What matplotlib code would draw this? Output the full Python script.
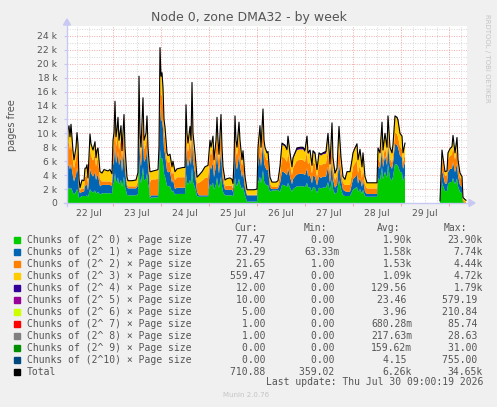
import datetime as dt
import numpy as np
import matplotlib
matplotlib.use("Agg")
import matplotlib.pyplot as plt
import matplotlib.dates as mdates
from matplotlib.lines import Line2D
from matplotlib.patches import Rectangle, Polygon

nan = float("nan")

# half-hour slots since 22 Jul 01:00, values in thousands of pages
slots = [0, 1, 2, 3, 4, 6, 7, 9, 10, 11, 12, 13, 15, 17, 18, 19, 20, 21, 23, 24, 26, 28, 29, 30, 31, 33,
         35, 37, 41, 43, 45, 46, 47, 48, 49, 50, 51, 52, 54, 55, 57, 58, 60,
         61, 65, 69, 71, 72, 73, 74, 76, 77, 79, 80, 81, 82, 83, 84, 86, 89, 91,
         92, 93, 94, 95, 96, 97, 98, 100, 101, 103, 105, 106, 108, 110, 113, 116, 118,
         119, 120, 121, 123, 124, 125, 126, 128, 130, 132, 135, 138, 141,
         143, 144, 146, 147, 149, 150, 151, 152, 154, 155, 156, 158, 160, 163, 165, 166,
         167, 168, 169, 170, 172, 173, 175, 176, 178, 180, 183, 187, 190,
         191, 193, 194, 196, 197, 198, 200, 201, 203, 205, 209, 211,
         213, 215, 216, 218, 220, 221, 223, 225, 226, 228, 230, 233, 236, 238, 240, 241, 243, 245, 246, 248,
         250, 252, 254, 256, 259, 261, 263, 265, 266, 268, 270, 272, 274, 276, 278,
         280, 283, 285, 286, 288, 290, 291, 293, 295, 296, 298, 300, 305, 310,
         311, 313, 315, 316, 318, 320, 321, 323, 325, 326, 328, 330, 331, 333, 335, 336, 338,
         355,
         373, 375, 376, 378, 380, 381, 383, 385, 386, 388, 390, 391, 393, 395, 396, 398, 399]

order0 = [1.2, 2.1, 2.2, 1.9, 2.2, 1.5, 1.2, 1.6, 2.0, 1.7, 0.7, 0.8, 1.0, 1.0, 1.0, 1.0, 1.1, 0.8, 2.0, 1.7, 1.5, 1.8, 1.3, 1.5, 1.6, 1.2,
          1.4, 1.4, 1.4, 1.4, 1.3, 2.7, 3.0, 4.3, 2.9, 3.2, 3.7, 2.7, 3.3, 2.3, 3.8, 2.4, 1.2,
          1.1, 1.1, 1.1, 1.3, 6.3, 3.5, 2.8, 5.2, 3.2, 3.5, 4.3, 2.8, 2.1, 0.5, 0.8, 0.8, 0.8, 0.8,
          2.8, 7.7, 6.3, 6.5, 5.8, 4.2, 3.8, 2.5, 2.4, 2.4, 1.6, 1.8, 1.2, 1.3, 1.3, 1.3, 1.3,
          4.2, 3.0, 2.6, 3.3, 2.7, 5.2, 3.0, 2.2, 1.0, 0.9, 0.9, 0.9, 0.9,
          2.7, 2.4, 2.9, 1.9, 2.7, 3.7, 2.7, 2.1, 3.8, 2.4, 1.6, 1.1, 1.1, 1.1, 1.1, 0.9,
          1.8, 3.7, 2.7, 2.4, 3.5, 2.7, 1.9, 2.3, 1.1, 0.2, 0.2, 0.2, 0.2,
          2.8, 3.8, 2.8, 4.7, 3.2, 2.8, 2.5, 2.6, 1.6, 1.8, 1.8, 1.9,
          1.6, 2.6, 2.6, 2.5, 2.3, 2.9, 2.2, 1.6, 2.0, 2.2, 2.4, 2.4, 2.4, 2.3, 2.9, 2.2, 2.3, 1.6, 2.3, 2.2,
          1.4, 2.2, 2.1, 2.2, 2.2, 3.0, 1.7, 3.5, 2.0, 1.3, 1.5, 3.3, 2.0, 1.1, 1.0,
          1.0, 1.0, 1.6, 1.9, 2.1, 2.3, 1.6, 2.0, 1.3, 1.9, 1.0, 0.9, 0.9, 0.9,
          3.6, 3.2, 5.2, 3.4, 4.5, 3.6, 5.6, 3.6, 3.2, 3.8, 5.6, 5.5, 5.3, 4.5, 4.3, 3.2, 3.9,
          nan,
          0.1, 2.9, 2.5, 1.7, 1.7, 2.7, 3.0, 3.0, 3.6, 2.7, 3.5, 2.4, 1.6, 1.4, 0.1, 0.0, 0.0]

order1 = [1.8, 3.2, 3.3, 2.9, 3.4, 2.3, 1.9, 2.4, 3.0, 2.6, 1.1, 0.6, 0.6, 0.6, 1.5, 1.5, 1.7, 1.0, 3.0, 2.6, 2.3, 2.6, 2.0, 2.3, 2.4, 1.2,
          1.2, 1.2, 1.2, 1.2, 1.1, 2.7, 3.0, 4.3, 2.8, 3.1, 3.7, 2.7, 3.3, 2.2, 3.8, 2.4, 1.1,
          1.0, 1.0, 1.0, 1.2, 5.4, 3.0, 2.4, 4.5, 2.7, 3.0, 3.7, 2.4, 1.8, 0.3, 0.3, 0.3, 0.3, 0.3,
          2.4, 6.6, 5.4, 5.5, 4.9, 3.6, 3.3, 2.2, 2.0, 2.1, 1.3, 1.6, 0.8, 0.9, 0.9, 0.9, 0.9,
          4.2, 3.0, 2.6, 3.3, 2.7, 5.2, 3.0, 2.2, 0.6, 0.2, 0.2, 0.2, 0.2,
          2.7, 2.4, 2.9, 1.8, 2.7, 3.7, 2.7, 2.1, 3.8, 2.4, 1.5, 0.8, 0.8, 0.8, 0.8, 0.7,
          1.8, 3.7, 2.7, 2.4, 3.4, 2.7, 1.8, 2.2, 1.1, 0.9, 0.9, 0.9, 0.9,
          2.4, 3.3, 2.4, 4.0, 2.7, 2.4, 2.2, 2.2, 0.6, 0.2, 0.2, 0.2,
          1.2, 1.9, 1.9, 1.8, 1.7, 2.1, 1.6, 1.1, 1.4, 1.6, 1.7, 1.8, 1.8, 1.7, 2.1, 1.6, 1.7, 1.2, 1.6, 1.6,
          1.1, 1.6, 1.5, 1.6, 1.6, 2.2, 1.2, 2.5, 1.4, 0.9, 1.1, 2.4, 1.4, 0.8, 0.7,
          0.6, 0.6, 1.2, 1.5, 1.6, 1.8, 1.2, 1.6, 1.0, 1.5, 0.6, 0.4, 0.4, 0.4,
          1.8, 1.7, 2.6, 1.7, 2.3, 1.8, 2.9, 1.8, 1.7, 1.9, 2.9, 2.8, 2.7, 2.3, 2.2, 1.7, 2.0,
          nan,
          0.1, 1.8, 1.6, 1.1, 1.1, 1.7, 1.9, 1.9, 2.3, 1.7, 2.2, 1.5, 1.0, 0.9, 0.1, 0.0, 0.0]

order2 = [1.8, 3.2, 3.3, 2.8, 3.4, 2.2, 1.9, 2.4, 3.0, 2.5, 1.0, 0.4, 0.5, 0.5, 1.3, 1.3, 1.5, 0.9, 2.9, 2.5, 2.3, 2.6, 1.9, 2.3, 2.3, 1.0,
          0.5, 0.5, 0.5, 0.5, 0.5, 2.2, 2.5, 3.6, 2.4, 2.6, 3.0, 2.2, 2.7, 1.9, 3.1, 2.0, 0.4,
          0.3, 0.3, 0.3, 0.6, 3.6, 2.0, 1.6, 3.0, 1.8, 2.0, 2.5, 1.6, 1.2, 2.2, 2.2, 2.3, 2.3, 2.4,
          1.6, 4.4, 3.6, 3.7, 3.3, 2.4, 2.2, 1.4, 1.4, 1.4, 1.2, 1.4, 1.3, 1.5, 1.5, 1.5, 1.5,
          3.5, 2.5, 2.1, 2.7, 2.2, 4.3, 2.5, 1.8, 1.2, 1.8, 2.1, 2.5, 2.6,
          2.2, 2.0, 2.4, 1.6, 2.2, 3.0, 2.2, 1.8, 3.1, 2.0, 1.3, 0.5, 0.6, 0.6, 0.6, 0.5,
          1.5, 3.1, 2.2, 2.0, 2.9, 2.2, 1.6, 1.9, 0.9, 0.1, 0.1, 0.1, 0.1,
          1.6, 2.2, 1.6, 2.7, 1.8, 1.6, 1.4, 1.5, 0.6, 0.3, 0.3, 0.3,
          1.3, 2.1, 2.1, 2.1, 1.9, 2.4, 1.8, 1.3, 1.6, 1.8, 2.0, 2.0, 2.0, 1.9, 2.4, 1.8, 1.9, 1.4, 1.9, 1.8,
          1.2, 1.8, 1.8, 1.8, 1.9, 2.5, 1.4, 2.9, 1.6, 1.1, 1.3, 2.8, 1.6, 1.0, 0.9,
          1.0, 1.0, 1.5, 1.8, 2.0, 2.1, 1.5, 1.9, 1.2, 1.8, 1.0, 0.8, 0.8, 0.8,
          1.0, 0.9, 1.5, 1.0, 1.3, 1.0, 1.6, 1.0, 0.9, 1.1, 1.6, 1.6, 1.5, 1.3, 1.2, 0.9, 1.1,
          nan,
          0.1, 1.9, 1.6, 1.1, 1.2, 1.8, 1.9, 2.0, 2.4, 1.8, 2.3, 1.5, 1.1, 1.0, 0.3, 0.2, 0.1]

order3 = [1.2, 2.0, 2.2, 1.9, 2.2, 1.5, 1.2, 1.6, 2.0, 1.7, 0.7, 0.4, 1.2, 1.1, 1.2, 1.2, 1.2, 0.9, 1.9, 1.7, 1.5, 1.8, 1.3, 1.5, 1.6, 1.1,
          1.2, 1.7, 1.5, 1.7, 1.3, 1.4, 1.5, 2.2, 1.4, 1.6, 1.8, 1.4, 1.7, 1.1, 1.9, 1.2, 1.0,
          0.8, 0.8, 0.9, 1.3, 2.7, 1.5, 1.2, 2.3, 1.3, 1.5, 1.9, 1.2, 0.9, 1.5, 1.2, 1.2, 1.3, 1.3,
          1.2, 3.3, 2.7, 2.8, 2.5, 1.8, 1.6, 1.1, 1.0, 1.1, 1.1, 1.2, 1.2, 1.2, 1.3, 1.4, 1.4,
          2.1, 1.5, 1.3, 1.7, 1.4, 2.5, 1.5, 1.0, 0.9, 1.1, 1.3, 1.6, 1.7,
          1.4, 1.2, 1.4, 0.9, 1.4, 1.8, 1.4, 1.0, 1.9, 1.2, 0.8, 0.9, 1.0, 1.1, 0.9, 0.7,
          0.9, 1.9, 1.4, 1.2, 1.7, 1.4, 0.9, 1.1, 0.7, 0.7, 0.7, 0.7, 0.8,
          1.2, 1.7, 1.2, 2.0, 1.3, 1.2, 1.1, 1.1, 0.9, 0.7, 0.7, 0.8,
          1.1, 1.8, 1.7, 1.7, 1.6, 2.0, 1.4, 1.1, 1.3, 1.4, 1.5, 1.5, 1.5, 1.4, 1.9, 1.4, 1.5, 1.1, 1.5, 1.4,
          1.0, 1.4, 1.4, 1.4, 1.4, 2.0, 1.2, 2.3, 1.3, 0.9, 1.0, 2.2, 1.3, 0.8, 0.7,
          1.9, 1.9, 1.9, 2.0, 2.1, 2.2, 1.9, 2.1, 1.7, 2.0, 1.2, 0.8, 0.8, 0.8,
          1.5, 1.4, 2.2, 1.5, 1.9, 1.6, 2.3, 1.6, 1.4, 1.6, 2.3, 2.3, 2.3, 1.9, 1.9, 1.4, 1.6,
          nan,
          0.0, 0.9, 0.8, 0.6, 0.6, 1.0, 1.0, 1.1, 1.3, 1.0, 1.3, 0.8, 0.6, 0.5, 0.3, 0.3, 0.3]

order4 = [0.0, 0.1, 0.1, 0.0, 0.1, 0.0, 0.0, 0.0, 0.1, 0.0, 0.0, 0.0, 0.0, 0.0, 0.0, 0.0, 0.0, 0.0, 0.1, 0.0, 0.0, 0.0, 0.0, 0.0, 0.0, 0.0,
          0.0, 0.0, 0.0, 0.0, 0.0, 0.0, 0.1, 0.2, 0.0, 0.1, 0.1, 0.0, 0.1, 0.0, 0.1, 0.0, 0.0,
          0.0, 0.0, 0.0, 0.0, 0.2, 0.0, 0.0, 0.1, 0.0, 0.0, 0.1, 0.0, 0.0, 0.0, 0.0, 0.0, 0.0, 0.0,
          0.0, 0.3, 0.2, 0.2, 0.1, 0.0, 0.0, 0.0, 0.0, 0.0, 0.0, 0.0, 0.0, 0.0, 0.0, 0.0, 0.0,
          0.1, 0.0, 0.0, 0.0, 0.0, 0.1, 0.0, 0.0, 0.0, 0.0, 0.0, 0.0, 0.0,
          0.0, 0.0, 0.0, 0.0, 0.0, 0.1, 0.0, 0.0, 0.1, 0.0, 0.0, 0.0, 0.0, 0.0, 0.0, 0.0,
          0.0, 0.1, 0.0, 0.0, 0.1, 0.0, 0.0, 0.0, 0.0, 0.0, 0.0, 0.0, 0.0,
          0.0, 0.1, 0.0, 0.1, 0.0, 0.0, 0.0, 0.0, 0.0, 0.0, 0.0, 0.0,
          0.1, 0.2, 0.2, 0.2, 0.2, 0.2, 0.2, 0.1, 0.2, 0.2, 0.3, 0.3, 0.3, 0.3, 0.3, 0.2, 0.2, 0.1, 0.2, 0.2,
          0.1, 0.2, 0.2, 0.2, 0.3, 0.3, 0.1, 0.3, 0.2, 0.1, 0.1, 0.3, 0.2, 0.1, 0.1,
          0.0, 0.0, 0.0, 0.0, 0.1, 0.1, 0.0, 0.1, 0.0, 0.0, 0.0, 0.0, 0.0, 0.0,
          0.0, 0.0, 0.1, 0.0, 0.0, 0.0, 0.1, 0.0, 0.0, 0.0, 0.1, 0.1, 0.1, 0.0, 0.0, 0.0, 0.0,
          nan,
          0.0, 0.1, 0.0, 0.0, 0.0, 0.0, 0.0, 0.1, 0.1, 0.0, 0.1, 0.0, 0.0, 0.0, 0.0, 0.0, 0.0]

series_names = ["Chunks of (2^ 0) × Page size", "Chunks of (2^ 1) × Page size",
                "Chunks of (2^ 2) × Page size", "Chunks of (2^ 3) × Page size",
                "Chunks of (2^ 4) × Page size", "Chunks of (2^ 5) × Page size",
                "Chunks of (2^ 6) × Page size", "Chunks of (2^ 7) × Page size",
                "Chunks of (2^ 8) × Page size", "Chunks of (2^ 9) × Page size",
                "Chunks of (2^10) × Page size", "Total"]
series_colors = ["#00cc00", "#0066b3", "#ff8000", "#ffcc00", "#330099", "#990099",
                 "#ccff00", "#ff0000", "#808080", "#008f00", "#00487d", "#000000"]
cur_vals = ["77.47", "23.29", "21.65", "559.47", "12.00", "10.00", "5.00", "1.00", "1.00", "0.00", "0.00", "710.88"]
min_vals = ["0.00", "63.33m", "1.00", "0.00", "0.00", "0.00", "0.00", "0.00", "0.00", "0.00", "0.00", "359.02"]
avg_vals = ["1.90k", "1.58k", "1.53k", "1.09k", "129.56", "23.46", "3.96", "680.28m", "217.63m", "159.62m", "4.15", "6.26k"]
max_vals = ["23.90k", "7.74k", "4.44k", "4.72k", "1.79k", "579.19", "210.84", "85.74", "28.63", "31.00", "755.00", "34.65k"]
day_labels = ["22 Jul", "23 Jul", "24 Jul", "25 Jul", "26 Jul", "27 Jul", "28 Jul", "29 Jul"]

W, H = 497, 407
TXT = "#555555"
AXC = "#c8c8f4"

start = dt.datetime(2026, 7, 22, 1, 0)
end = dt.datetime(2026, 7, 30, 9, 0)
t = mdates.date2num([start + dt.timedelta(minutes=30 * s) for s in slots])

fig = plt.figure(figsize=(W / 100, H / 100), dpi=100, facecolor="#f0f0f0")
ax = fig.add_axes([67 / W, (H - 203) / H, 400 / W, 177 / H])
ax.set_facecolor("white")
ax.set_xlim(mdates.date2num(start), mdates.date2num(end))
ax.set_ylim(0, 25.4)

# grid
for v in range(1, 26):
    ax.axhline(v, color="#f2a8a8" if v % 2 == 0 else "#d8d8d8", lw=0.7,
               ls=(0, (1, 1.5)), zorder=0)
k = dt.datetime(2026, 7, 22, 6, 0)
while k < end:
    ax.axvline(mdates.date2num(k), color="#f2a8a8" if k.hour == 0 else "#d8d8d8",
               lw=0.7, ls=(0, (1, 1.5)), zorder=0)
    k += dt.timedelta(hours=6)

# stacked areas
layers = np.array([order0, order1, order2, order3, order4])
tops = np.cumsum(layers, axis=0)
bottom = np.zeros(len(slots))
bottom[np.isnan(tops[0])] = nan
for i in range(len(layers)):
    ax.fill_between(t, bottom, tops[i], color=series_colors[i], lw=0, zorder=2)
    bottom = tops[i]
ax.plot(t, tops[-1], color="black", lw=0.8, zorder=3)

for s in ax.spines.values():
    s.set_visible(False)

ax.set_yticks(range(0, 25, 2))
ax.set_yticklabels(["0"] + ["%d k" % v for v in range(2, 25, 2)])
noons = [mdates.date2num(dt.datetime(2026, 7, 22 + i, 12)) for i in range(len(day_labels))]
ax.set_xticks(noons)
ax.set_xticklabels(day_labels)
ax.set_xticks([mdates.date2num(dt.datetime(2026, 7, 23 + i)) for i in range(8)], minor=True)
ax.tick_params(axis="x", which="major", length=0, pad=4, labelsize=6.6, labelcolor=TXT)
ax.tick_params(axis="x", which="minor", length=2.5, color="#f2a8a8", width=0.8)
ax.tick_params(axis="y", length=2, color=AXC, pad=5, labelsize=6.6, labelcolor=TXT)

# munin style axes with arrows
x0, y0 = 67 / W, (H - 203) / H
fig.add_artist(Line2D([x0, x0], [y0 - 3 / H, (H - 24) / H], color=AXC, lw=1, transform=fig.transFigure))
fig.add_artist(Line2D([x0 - 3 / W, 470 / W], [y0, y0], color=AXC, lw=1, transform=fig.transFigure))
fig.add_artist(Polygon([[x0 - 3.5 / W, (H - 25) / H], [x0 + 3.5 / W, (H - 25) / H], [x0, (H - 19) / H]],
                       closed=True, color=AXC, transform=fig.transFigure))
fig.add_artist(Polygon([[469 / W, y0 + 3.5 / H], [469 / W, y0 - 3.5 / H], [475 / W, y0]],
                       closed=True, color=AXC, transform=fig.transFigure))

fig.text(0.5, 1 - 18 / H, "Node 0, zone DMA32 - by week", ha="center", va="center",
         fontsize=9, color=TXT)
fig.text(12 / W, 1 - 125 / H, "pages free", rotation=90, ha="center", va="center",
         fontsize=7, color=TXT)
fig.text(487 / W, 1 - 58 / H, "RRDTOOL / TOBI OETIKER", rotation=270, ha="center", va="center",
         fontsize=5, color="#c4c4c4")

# legend table
mono = "DejaVu Sans Mono"
def fy(y):
    return 1 - y / H

for lab, xr in (("Cur:", 258), ("Min:", 327), ("Avg:", 400), ("Max:", 467)):
    fig.text(xr / W, fy(228), lab, ha="right", va="center", family=mono, fontsize=7, color=TXT)

def pad(v):
    return v if v[-1] in "km" else v + " "

for i, name in enumerate(series_names):
    yy = 240 + 12 * i
    fig.add_artist(Rectangle((14 / W, fy(yy + 3)), 6 / W, 6 / H, color=series_colors[i],
                             transform=fig.transFigure))
    fig.text(27 / W, fy(yy), name, ha="left", va="center", family=mono, fontsize=7, color=TXT)
    for vals, xr in ((cur_vals, 271), (min_vals, 340), (avg_vals, 412), (max_vals, 483)):
        fig.text(xr / W, fy(yy), pad(vals[i]), ha="right", va="center", family=mono,
                 fontsize=7, color=TXT)

fig.text(483 / W, fy(382), "Last update: Thu Jul 30 09:00:19 2026", ha="right", va="center",
         family=mono, fontsize=7, color=TXT)
fig.text(223 / W, fy(395), "Munin 2.0.76", ha="left", va="center", fontsize=5, color="#c4c4c4")

fig.savefig("out.png", dpi=100, facecolor=fig.get_facecolor())
